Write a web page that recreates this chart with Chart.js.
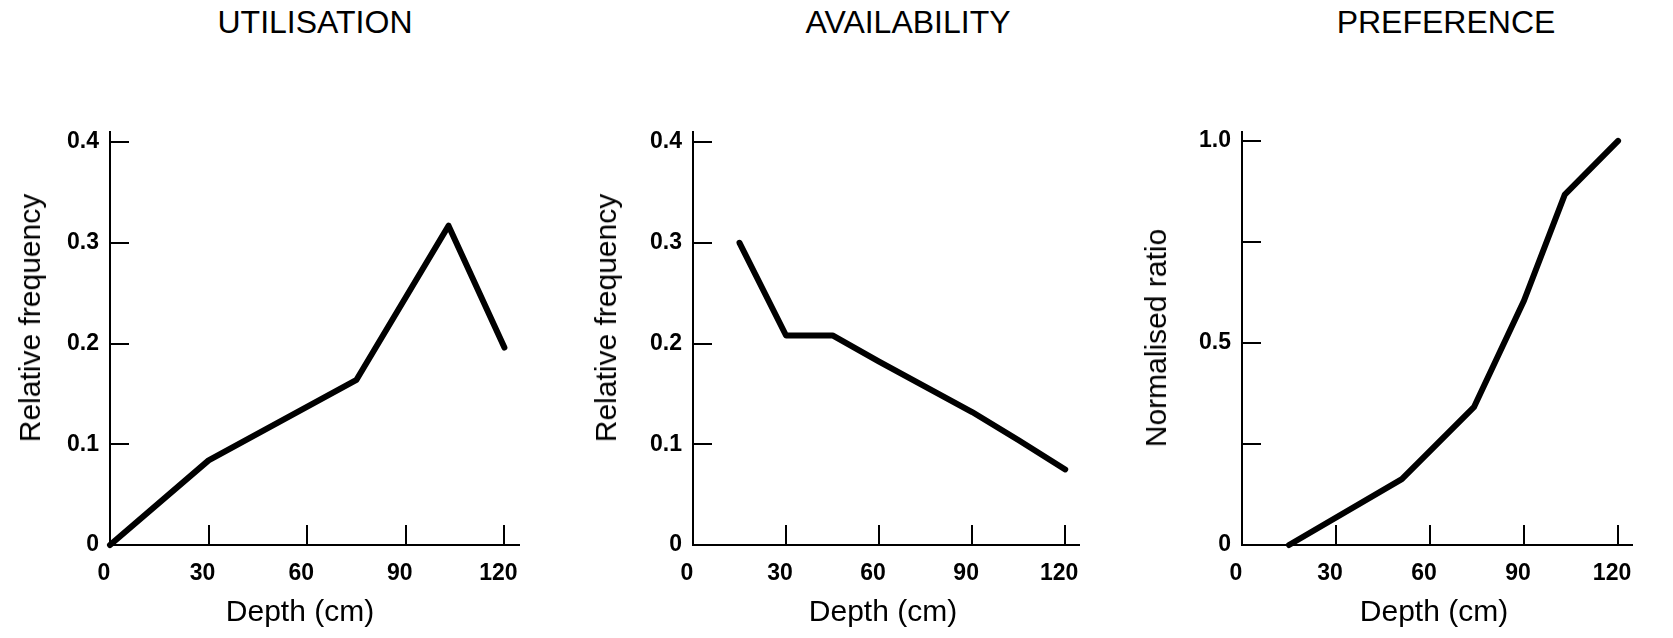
<!DOCTYPE html>
<html>
<head>
<meta charset="utf-8">
<title>Depth utilisation, availability and preference</title>
<script src="https://cdn.jsdelivr.net/npm/chart.js@4.4.1/dist/chart.umd.min.js"></script>
<style>
  html, body { margin: 0; padding: 0; background: #fff; overflow: hidden; }
  body { width: 1673px; height: 638px; position: relative; font-family: "Liberation Sans", Arial, sans-serif; color: #000; }
  .panel-title { position: absolute; top: 6px; width: 300px; text-align: center; font-size: 32px; line-height: 32px; }
  .axis-title { position: absolute; font-size: 30px; line-height: 30px; white-space: nowrap; transform: translate(-50%, -50%); }
  .axis-title.vertical { transform: translate(-50%, -50%) rotate(-90deg); }
  canvas { position: absolute; top: 0; }
</style>
</head>
<body>
<div class="panel-title" style="left:165px">UTILISATION</div>
<div class="panel-title" style="left:758px">AVAILABILITY</div>
<div class="panel-title" style="left:1296px">PREFERENCE</div>

<canvas id="util-chart" width="560" height="638" style="left:0px"></canvas>
<canvas id="avail-chart" width="560" height="638" style="left:560px"></canvas>
<canvas id="pref-chart" width="553" height="638" style="left:1120px"></canvas>

<div class="axis-title vertical" style="left:30px; top:318px">Relative frequency</div>
<div class="axis-title" style="left:300px; top:611px">Depth (cm)</div>
<div class="axis-title vertical" style="left:606px; top:318px">Relative frequency</div>
<div class="axis-title" style="left:883px; top:611px">Depth (cm)</div>
<div class="axis-title vertical" style="left:1156px; top:338px">Normalised ratio</div>
<div class="axis-title" style="left:1434px; top:611px">Depth (cm)</div>

<script>
// values
const utilDepth = [0, 30, 75, 103, 120];
const utilFreq = [0, 0.084, 0.164, 0.317, 0.196];

const availDepth = [15, 30, 45, 60, 75, 90, 105, 120];
const availFreq = [0.30, 0.208, 0.208, 0.182, 0.157, 0.132, 0.104, 0.075];

const prefDepth = [15, 51, 74, 90, 103, 120];
const prefRatio = [0, 0.163, 0.341, 0.605, 0.867, 1.0];

const depthTicks = [0, 30, 60, 90, 120];
const freqTicks = [0, 0.1, 0.2, 0.3, 0.4];
const ratioTicks = [0, 0.25, 0.5, 0.75, 1.0];
const ratioLabels = ['0', '', '0.5', '', '1.0'];

const FONT = '"Liberation Sans", Arial, sans-serif';

document.addEventListener('DOMContentLoaded', () => {
  renderChart('util-chart', utilDepth, utilFreq, {
    yMax: 0.41, yStep: 0.1, yTicks: freqTicks, yLabels: null, yWidth: 110, padRight: 35
  });
  renderChart('avail-chart', availDepth, availFreq, {
    yMax: 0.41, yStep: 0.1, yTicks: freqTicks, yLabels: null, yWidth: 133, padRight: 12
  });
  renderChart('pref-chart', prefDepth, prefRatio, {
    yMax: 1.022, yStep: 0.25, yTicks: ratioTicks, yLabels: ratioLabels, yWidth: 122, padRight: 16
  });
});

function yLabel(value, cfg) {
  const i = cfg.yTicks.findIndex(t => Math.abs(t - value) < 1e-6);
  if (cfg.yLabels) {
    return i >= 0 ? cfg.yLabels[i] : '';
  }
  return value === 0 ? '0' : Number(value).toFixed(1);
}

function renderChart(canvasId, xs, ys, cfg) {
  const ctx = document.getElementById(canvasId).getContext('2d');
  const points = xs.map((x, i) => ({ x: x, y: ys[i] }));

  new Chart(ctx, {
    type: 'line',
    data: {
      datasets: [{
        data: points,
        borderColor: '#000',
        borderWidth: 6,
        borderCapStyle: 'round',
        borderJoinStyle: 'round',
        pointRadius: 0,
        tension: 0,
        fill: false,
        clip: false,
      }],
    },
    options: {
      responsive: false,
      animation: false,
      devicePixelRatio: 1,
      layout: {
        padding: { top: 132, right: cfg.padRight, bottom: 0, left: 0 },
      },
      plugins: {
        legend: { display: false },
        tooltip: { enabled: false },
      },
      scales: {
        x: {
          type: 'linear',
          min: 0,
          max: 124.3,
          afterFit: (scale) => { scale.height = 93; },
          border: { display: true, color: '#000', width: 2 },
          // tick marks point into the plot, as in the original
          grid: { drawOnChartArea: false, drawTicks: true, tickLength: -20, color: '#000', lineWidth: 2 },
          ticks: {
            stepSize: 30,
            includeBounds: false,
            padding: 35.2,
            labelOffset: -6,
            color: '#000',
            maxRotation: 0,
            font: { family: FONT, size: 23, weight: 'bold' },
            callback: (v) => depthTicks.includes(v) ? String(v) : '',
          },
        },
        y: {
          type: 'linear',
          min: 0,
          max: cfg.yMax,
          afterFit: (scale) => { scale.width = cfg.yWidth; },
          border: { display: true, color: '#000', width: 2 },
          grid: { drawOnChartArea: false, drawTicks: true, tickLength: -19, color: '#000', lineWidth: 2 },
          ticks: {
            stepSize: cfg.yStep,
            includeBounds: false,
            padding: 30,
            color: '#000',
            font: { family: FONT, size: 23, weight: 'bold' },
            callback: (v) => yLabel(v, cfg),
          },
        },
      },
    },
  });
}
</script>
</body>
</html>
